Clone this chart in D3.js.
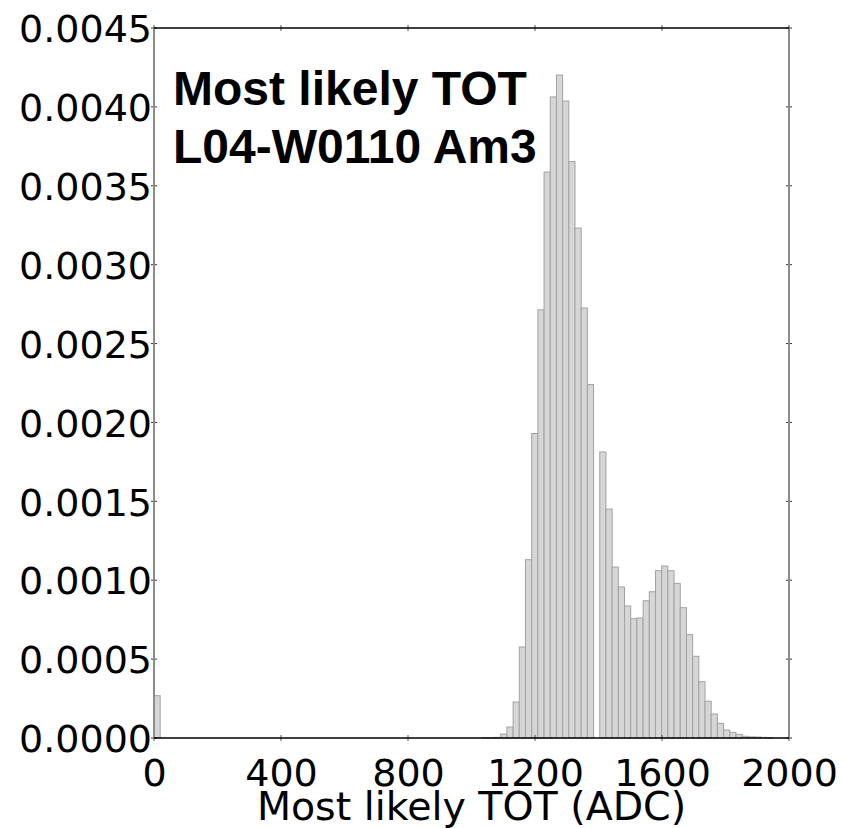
<!DOCTYPE html>
<html>
<head>
<meta charset="utf-8">
<script src="https://cdn.jsdelivr.net/npm/d3@7"></script>
<style>
    html, body { margin: 0; padding: 0; background: #fff; }
    #chart { width: 845px; height: 828px; }
</style>
</head>
<body>
<div id="chart"></div>
<script>
// histogram of most likely TOT, 100 bins of 19.5 ADC starting at 0
const binWidth = 19.5;
const density = [
    0.000268, 0, 0, 0, 0, 0, 0, 0, 0, 0,
    0, 0, 0, 0, 0, 0, 0, 0, 0, 0,
    0, 0, 0, 0, 0, 0, 0, 0, 0, 0,
    0, 0, 0, 0, 0, 0, 0, 0, 0, 0,
    0, 0, 0, 0, 0, 0, 0, 0, 0, 0,
    0, 0, 0, 0.000003, 0.000003, 0.000004, 0.0000254, 0.0000697, 0.000228, 0.000577,
    0.00113, 0.00193, 0.002714, 0.003587, 0.004063, 0.004202, 0.004037, 0.003653, 0.003232, 0.002725,
    0.00224, 0, 0.001813, 0.001451, 0.001084, 0.000957, 0.000837, 0.000756, 0.000761, 0.00087,
    0.000927, 0.00106, 0.00109, 0.00106, 0.00098, 0.000826, 0.000655, 0.000518, 0.000357, 0.000233,
    0.000152, 0.000093, 0.0000507, 0.000036, 0.000023, 0.000011, 0.000007, 0.000006, 0.000004, 0.000003
];
const xTicks = [0, 400, 800, 1200, 1600, 2000];
const yTicks = [0, 0.0005, 0.001, 0.0015, 0.002, 0.0025, 0.003, 0.0035, 0.004, 0.0045];
const titleLines = ['Most likely TOT', 'L04-W0110 Am3'];
const xLabel = 'Most likely TOT (ADC)';

const labelFont = "'DejaVu Sans', sans-serif";
const titleFont = "'Liberation Sans', Arial, Helvetica, sans-serif";
const textSizeInPx = 38;

const margin = { top: 28, right: 56, bottom: 90, left: 154 };
const width = 845 - margin.left - margin.right;
const height = 828 - margin.top - margin.bottom;

const x = d3.scaleLinear().domain([0, 2000]).range([0, width]);
const y = d3.scaleLinear().domain([0, 0.0045]).range([height, 0]);

const svg = d3.select('#chart')
    .append('svg')
    .attr('width', 845)
    .attr('height', 828)
    .append('g')
    .attr('transform', `translate(${margin.left},${margin.top})`);

const bins = density
    .map((v, i) => ({ x0: i * binWidth, x1: (i + 1) * binWidth, value: v }))
    .filter(d => d.value > 0);

svg.selectAll('.bar')
    .data(bins)
    .enter()
    .append('rect')
    .attr('class', 'bar')
    .attr('x', d => x(d.x0))
    .attr('y', d => y(d.value))
    .attr('width', d => x(d.x1) - x(d.x0))
    .attr('height', d => y(0) - y(d.value))
    .attr('fill', '#d6d6d6')
    .attr('stroke', '#a2a2a2')
    .attr('stroke-width', 1);

// x axis: ticks drawn separately below, labels only here
const xAxis = svg.append('g')
    .attr('transform', `translate(0,${height})`)
    .call(d3.axisBottom(x).tickValues(xTicks).tickSize(0).tickPadding(0).tickFormat(d3.format('d')));
xAxis.select('.domain').remove();
xAxis.selectAll('text')
    .attr('y', 48)
    .attr('dy', 0)
    .style('font-size', `${textSizeInPx}px`)
    .style('font-family', labelFont)
    .style('fill', '#000');

const yAxis = svg.append('g')
    .call(d3.axisLeft(y).tickValues(yTicks).tickSize(0).tickPadding(2).tickFormat(d3.format('.4f')));
yAxis.select('.domain').remove();
yAxis.selectAll('text')
    .attr('dy', '0.36em')
    .style('font-size', `${textSizeInPx}px`)
    .style('font-family', labelFont)
    .style('fill', '#000');

// tick marks on all four sides
const tickLen = 3;
svg.selectAll('.xtick-bottom')
    .data(xTicks)
    .enter()
    .append('line')
    .attr('x1', d => x(d)).attr('x2', d => x(d))
    .attr('y1', height - tickLen).attr('y2', height + tickLen)
    .style('stroke', '#555').style('stroke-width', '1px');
svg.selectAll('.xtick-top')
    .data(xTicks)
    .enter()
    .append('line')
    .attr('x1', d => x(d)).attr('x2', d => x(d))
    .attr('y1', -tickLen).attr('y2', tickLen)
    .style('stroke', '#555').style('stroke-width', '1px');
svg.selectAll('.ytick-left')
    .data(yTicks)
    .enter()
    .append('line')
    .attr('x1', -tickLen).attr('x2', tickLen)
    .attr('y1', d => y(d)).attr('y2', d => y(d))
    .style('stroke', '#333').style('stroke-width', '1px');
svg.selectAll('.ytick-right')
    .data(yTicks)
    .enter()
    .append('line')
    .attr('x1', width - tickLen).attr('x2', width + tickLen)
    .attr('y1', d => y(d)).attr('y2', d => y(d))
    .style('stroke', '#333').style('stroke-width', '1px');

// frame
svg.append('line')
    .attr('x1', 0).attr('x2', 0).attr('y1', 0).attr('y2', height)
    .style('stroke', '#8c8c8c').style('stroke-width', '2px');
svg.append('line')
    .attr('x1', width).attr('x2', width).attr('y1', 0).attr('y2', height)
    .style('stroke', '#8c8c8c').style('stroke-width', '2px');
svg.append('line')
    .attr('x1', 0).attr('x2', width).attr('y1', 0).attr('y2', 0)
    .style('stroke', '#000').style('stroke-width', '1.5px');
svg.append('line')
    .attr('x1', 0).attr('x2', width).attr('y1', height).attr('y2', height)
    .style('stroke', '#000').style('stroke-width', '1.5px');

svg.append('text')
    .attr('x', width / 2)
    .attr('y', height + 82)
    .attr('text-anchor', 'middle')
    .style('font-size', '39.5px')
    .style('font-family', labelFont)
    .text(xLabel);

svg.selectAll('.title-line')
    .data(titleLines)
    .enter()
    .append('text')
    .attr('class', 'title-line')
    .attr('x', 19)
    .attr('y', (d, i) => 77 + i * 58)
    .style('font-size', '48px')
    .style('font-weight', 'bold')
    .style('font-family', titleFont)
    .text(d => d);
</script>
</body>
</html>
